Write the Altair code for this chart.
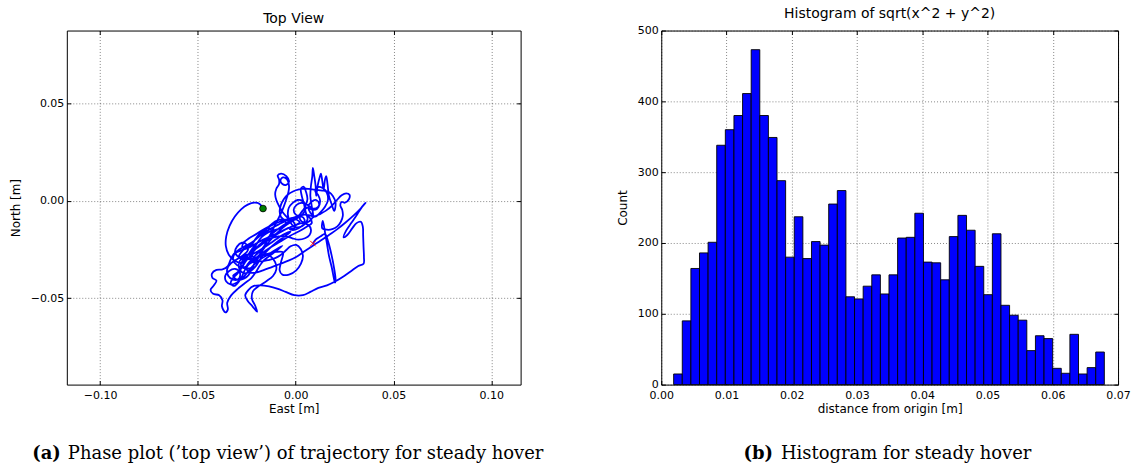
import altair as alt
import pandas as pd

# ---------------- Trajectory (top view), metres ----------------
east_m = [
    # start + big left arc
    -0.0167, -0.0184, -0.0211, -0.0245, -0.0279, -0.0311, -0.0338, -0.0355, -0.0357, -0.0342, -0.0313, -0.0275,
    # lower-left tangle
    -0.0241, -0.0218, -0.0197, -0.0173, -0.0143, -0.0109, -0.0075, -0.0051, -0.0061, -0.0094, -0.0126, -0.0156,
    -0.0187, -0.0221, -0.0255, -0.0289, -0.0316, -0.0333, -0.0347, -0.0374, -0.0405, -0.0428, -0.0425, -0.0405,
    -0.0418, -0.0435, -0.0422, -0.0391, -0.0374, -0.0377, -0.0360, -0.0347, -0.0350, -0.0330, -0.0296, -0.0262,
    -0.0228, -0.0204, -0.0185, -0.0165, -0.0133, -0.0099, -0.0068,
    # extra loops in the lower-left knot
    -0.0100, -0.0140, -0.0180, -0.0215, -0.0245, -0.0270, -0.0300, -0.0330, -0.0355, -0.0360,
    -0.0340, -0.0310, -0.0285, -0.0290, -0.0320, -0.0345, -0.0350, -0.0330, -0.0300, -0.0270,
    -0.0245, -0.0250, -0.0275, -0.0300, -0.0310, -0.0290, -0.0255, -0.0215, -0.0175, -0.0135,
    -0.0100,
    # U loop below centre
    -0.0065, -0.0075, -0.0082, -0.0068, -0.0034, 0.0003, 0.0027, 0.0037, 0.0026, 0.0003, -0.0026, -0.0051,
    -0.0075, -0.0105, -0.0139, -0.0173, -0.0207, -0.0238, -0.0258, -0.0272, -0.0289, -0.0313, -0.0332, -0.0323,
    -0.0298, -0.0275, -0.0252, -0.0224, -0.0190, -0.0160, -0.0129, -0.0099, -0.0063, -0.0026,
    # dense wandering in the lower-left knot
    -0.0060, -0.0100, -0.0140, -0.0175, -0.0200, -0.0230, -0.0262, -0.0285, -0.0290, -0.0270,
    -0.0240, -0.0215, -0.0210, -0.0230, -0.0265, -0.0300, -0.0320, -0.0310, -0.0280, -0.0250,
    -0.0225, -0.0205, -0.0185, -0.0160, -0.0135, -0.0120, -0.0135, -0.0165, -0.0195, -0.0225,
    -0.0250, -0.0270, -0.0295, -0.0320, -0.0300, -0.0265, -0.0240, -0.0225, -0.0200, -0.0170,
    -0.0140, -0.0110, -0.0080, -0.0050, -0.0020, 0.0005, 0.0030, 0.0045, 0.0040, 0.0015,
    -0.0015, -0.0030,
    # up to the small top loop and back down
    -0.0003, -0.0009, -0.0031, -0.0051, -0.0068, -0.0085, -0.0099, -0.0105, -0.0099, -0.0085, -0.0085, -0.0092,
    -0.0075, -0.0048, -0.0034, -0.0048, -0.0068, -0.0078, -0.0065, -0.0044, -0.0034, -0.0037, -0.0048, -0.0061,
    -0.0075, -0.0092, -0.0109, -0.0126, -0.0143, -0.0160, -0.0180, -0.0207, -0.0231, -0.0252,
    # long diagonal to the right
    -0.0238, -0.0204, -0.0167, -0.0122, -0.0077, -0.0034, 0.0009, 0.0051, 0.0088, 0.0128, 0.0170, 0.0213,
    0.0255, 0.0298, 0.0332, 0.0357,
    # V, right side and bottom sweep
    0.0340, 0.0315, 0.0286, 0.0258, 0.0245, 0.0264, 0.0289, 0.0311, 0.0333, 0.0343, 0.0345, 0.0347,
    0.0349, 0.0347, 0.0320, 0.0286, 0.0248, 0.0204, 0.0160, 0.0116, 0.0075, 0.0037, -0.0007, -0.0051,
    -0.0095, -0.0136, -0.0180, -0.0214, -0.0241, -0.0258, -0.0245, -0.0221, -0.0197, -0.0207, -0.0224, -0.0218,
    -0.0187,
    # back through the middle
    -0.0150, -0.0116, -0.0099, -0.0105, -0.0129, -0.0160, -0.0187, -0.0207, -0.0228, -0.0218, -0.0190, -0.0160,
    -0.0126, -0.0088, -0.0051, -0.0017, 0.0014, 0.0048, 0.0071, 0.0078, 0.0065, 0.0034, 0.0000, -0.0034,
    -0.0068, -0.0105, -0.0143, -0.0180, -0.0214, -0.0245, -0.0272, -0.0265, -0.0238, -0.0204, -0.0167, -0.0129,
    -0.0092, -0.0054, -0.0017, 0.0017, 0.0048, 0.0071, 0.0082,
    # diagonal strands, lower-left to centre
    0.0060, 0.0020, -0.0030, -0.0080, -0.0130, -0.0180, -0.0225, -0.0260, -0.0280, -0.0265,
    -0.0230, -0.0190, -0.0150, -0.0110, -0.0070, -0.0030, 0.0000, 0.0020, 0.0000, -0.0040,
    -0.0085, -0.0130, -0.0175, -0.0215, -0.0250, -0.0275, -0.0290, -0.0270, -0.0235, -0.0195,
    -0.0155, -0.0115, -0.0075, -0.0035, 0.0005, 0.0045, 0.0075,
    # spikes at the top
    0.0088, 0.0082, 0.0075, 0.0078, 0.0085, 0.0088, 0.0095, 0.0102, 0.0105, 0.0112, 0.0122, 0.0129,
    0.0136, 0.0143, 0.0150, 0.0156, 0.0163, 0.0170, 0.0184, 0.0197, 0.0204, 0.0190, 0.0170, 0.0143,
    0.0116, 0.0085, 0.0051, 0.0017, -0.0014, -0.0041, -0.0061, -0.0075, -0.0082, -0.0075, -0.0051, -0.0017,
    0.0014, 0.0037, 0.0051, 0.0060, 0.0054, 0.0041, 0.0027, 0.0031, 0.0043, 0.0051, 0.0061,
    # knot in the upper middle
    0.0045, 0.0020, -0.0010, -0.0030, -0.0040, -0.0035, -0.0015, 0.0010, 0.0035, 0.0050,
    0.0045, 0.0025, 0.0000, -0.0010, 0.0005, 0.0030, 0.0060, 0.0090, 0.0115, 0.0125,
    0.0115, 0.0100, 0.0110, 0.0140, 0.0160, 0.0165, 0.0150, 0.0125, 0.0100,
    0.0075, 0.0065, 0.0080, 0.0105, 0.0120, 0.0110, 0.0085, 0.0060, 0.0035, 0.0020,
    0.0030, 0.0060, 0.0080,
    # right cluster
    0.0085, 0.0119, 0.0153, 0.0184, 0.0211, 0.0235, 0.0258, 0.0275, 0.0272, 0.0252, 0.0235, 0.0228,
    0.0238, 0.0241, 0.0231, 0.0213, 0.0187, 0.0160, 0.0136,
    # long drop and end
    0.0139, 0.0150, 0.0160, 0.0170, 0.0184, 0.0194, 0.0201, 0.0204, 0.0197, 0.0184, 0.0167, 0.0150,
    0.0128, 0.0102, 0.0088,
]
north_m = [
    -0.0039, -0.0015, -0.0009, -0.0019, -0.0043, -0.0080, -0.0128, -0.0182, -0.0233, -0.0277, -0.0306, -0.0318,
    -0.0294, -0.0255, -0.0218, -0.0185, -0.0163, -0.0150, -0.0139, -0.0119, -0.0097, -0.0100, -0.0122, -0.0151,
    -0.0182, -0.0211, -0.0231, -0.0250, -0.0272, -0.0303, -0.0335, -0.0352, -0.0355, -0.0374, -0.0396, -0.0410,
    -0.0434, -0.0457, -0.0478, -0.0485, -0.0512, -0.0542, -0.0573, -0.0559, -0.0524, -0.0486, -0.0452, -0.0425,
    -0.0398, -0.0367, -0.0335, -0.0308, -0.0282, -0.0257, -0.0231,
    -0.0250, -0.0275, -0.0300, -0.0330, -0.0365, -0.0395, -0.0420, -0.0430, -0.0415, -0.0385,
    -0.0360, -0.0350, -0.0370, -0.0400, -0.0405, -0.0385, -0.0350, -0.0320, -0.0300, -0.0280,
    -0.0255, -0.0225, -0.0215, -0.0235, -0.0265, -0.0290, -0.0300, -0.0295, -0.0280, -0.0270,
    -0.0262,
    -0.0264, -0.0315, -0.0357, -0.0379, -0.0379, -0.0357, -0.0323, -0.0284, -0.0247, -0.0226, -0.0233, -0.0255,
    -0.0277, -0.0294, -0.0304, -0.0311, -0.0311, -0.0325, -0.0352, -0.0383, -0.0413, -0.0437, -0.0425, -0.0400,
    -0.0374, -0.0342, -0.0306, -0.0277, -0.0257, -0.0238, -0.0218, -0.0196, -0.0173, -0.0158,
    -0.0185, -0.0215, -0.0250, -0.0290, -0.0330, -0.0360, -0.0372, -0.0355, -0.0320, -0.0290,
    -0.0275, -0.0290, -0.0320, -0.0345, -0.0345, -0.0330, -0.0300, -0.0270, -0.0255, -0.0245,
    -0.0225, -0.0195, -0.0170, -0.0150, -0.0140, -0.0160, -0.0185, -0.0200, -0.0215, -0.0250,
    -0.0290, -0.0330, -0.0365, -0.0385, -0.0405, -0.0400, -0.0380, -0.0350, -0.0300, -0.0255,
    -0.0215, -0.0180, -0.0150, -0.0125, -0.0105, -0.0090, -0.0080, -0.0095, -0.0120, -0.0140,
    -0.0150, -0.0145,
    -0.0138, -0.0111, -0.0094, -0.0077, -0.0056, -0.0026, 0.0005, 0.0034, 0.0063, 0.0087, 0.0111, 0.0131,
    0.0141, 0.0128, 0.0100, 0.0083, 0.0087, 0.0105, 0.0121, 0.0111, 0.0077, 0.0046, 0.0009, -0.0029,
    -0.0063, -0.0097, -0.0131, -0.0165, -0.0199, -0.0230, -0.0255, -0.0281, -0.0308, -0.0338,
    -0.0366, -0.0369, -0.0357, -0.0340, -0.0323, -0.0306, -0.0284, -0.0255, -0.0230, -0.0204, -0.0175, -0.0145,
    -0.0111, -0.0073, -0.0039, -0.0009,
    -0.0029, -0.0068, -0.0111, -0.0153, -0.0187, -0.0175, -0.0141, -0.0114, -0.0107, -0.0131, -0.0182, -0.0238,
    -0.0289, -0.0323, -0.0335, -0.0359, -0.0386, -0.0413, -0.0434, -0.0447, -0.0468, -0.0485, -0.0485, -0.0468,
    -0.0451, -0.0440, -0.0434, -0.0437, -0.0457, -0.0485, -0.0515, -0.0542, -0.0570, -0.0539, -0.0502, -0.0464,
    -0.0437,
    -0.0413, -0.0386, -0.0352, -0.0315, -0.0284, -0.0277, -0.0289, -0.0311, -0.0298, -0.0264, -0.0233, -0.0209,
    -0.0192, -0.0182, -0.0182, -0.0192, -0.0199, -0.0192, -0.0175, -0.0148, -0.0124, -0.0114, -0.0124, -0.0138,
    -0.0153, -0.0172, -0.0189, -0.0206, -0.0226, -0.0243, -0.0240, -0.0213, -0.0192, -0.0172, -0.0148, -0.0128,
    -0.0111, -0.0097, -0.0087, -0.0077, -0.0070, -0.0085, -0.0114,
    -0.0130, -0.0155, -0.0180, -0.0210, -0.0240, -0.0275, -0.0310, -0.0340, -0.0330, -0.0300,
    -0.0265, -0.0230, -0.0195, -0.0160, -0.0130, -0.0105, -0.0095, -0.0110, -0.0125, -0.0140,
    -0.0165, -0.0195, -0.0225, -0.0255, -0.0280, -0.0300, -0.0285, -0.0255, -0.0225, -0.0190,
    -0.0160, -0.0135, -0.0115, -0.0095, -0.0080, -0.0070, -0.0075,
    -0.0077, -0.0026, 0.0026, 0.0077, 0.0128, 0.0170, 0.0128, 0.0077, 0.0026, 0.0077, 0.0119, 0.0141,
    0.0102, 0.0060, 0.0111, 0.0128, 0.0085, 0.0026, -0.0017, -0.0051, -0.0009, 0.0026, 0.0046, 0.0053,
    0.0056, 0.0060, 0.0063, 0.0060, 0.0049, 0.0032, 0.0009, -0.0019, -0.0053, -0.0083, -0.0100, -0.0097,
    -0.0077, -0.0049, -0.0022, 0.0009, 0.0043, 0.0073, 0.0063, 0.0026, -0.0017, -0.0056, -0.0094,
    -0.0120, -0.0135, -0.0130, -0.0105, -0.0070, -0.0035, -0.0010, 0.0005, 0.0000, -0.0025,
    -0.0055, -0.0075, -0.0070, -0.0045, -0.0020, -0.0010, -0.0020, -0.0040, -0.0030, 0.0000,
    0.0030, 0.0050, 0.0070, 0.0065, 0.0040, 0.0005, -0.0030, -0.0060, -0.0080,
    -0.0060, -0.0030, -0.0005, 0.0005, -0.0015, -0.0040, -0.0045, -0.0035, -0.0050, -0.0080,
    -0.0105, -0.0110, -0.0095,
    -0.0087, -0.0070, -0.0051, -0.0026, 0.0005, 0.0029, 0.0039, 0.0032, 0.0009, -0.0009, -0.0005, -0.0022,
    -0.0046, -0.0077, -0.0107, -0.0131, -0.0145, -0.0148, -0.0141,
    -0.0102, -0.0162, -0.0221, -0.0281, -0.0340, -0.0391, -0.0420, -0.0408, -0.0349, -0.0281, -0.0213, -0.0170,
    -0.0182, -0.0199, -0.0219,
]

# ---------------- Histogram of distance from origin ----------------
hist_counts = [15, 90, 164, 186, 201, 338, 360, 380, 411, 473, 380, 349, 288, 180, 237, 178, 202, 197,
               255, 274, 124, 121, 139, 155, 128, 155, 207, 208, 242, 173, 172, 148, 209, 239, 218, 167,
               127, 213, 112, 98, 91, 48, 69, 65, 23, 16, 71, 15, 24, 46]
hist_first_edge = 0.0019
hist_bin_width = 0.00132

# ---------------- Text ----------------
left_title = "Top View"
right_title = "Histogram of sqrt(x^2 + y^2)"
caption_a = ["(a)", "Phase plot (\u2019top view\u2019) of trajectory for steady hover"]
caption_b = ["(b)", "Histogram for steady hover"]
east_ticks = [-0.10, -0.05, 0.0, 0.05, 0.10]
north_ticks = [-0.05, 0.0, 0.05]
dist_ticks = [0.0, 0.01, 0.02, 0.03, 0.04, 0.05, 0.06, 0.07]
count_ticks = [0, 100, 200, 300, 400, 500]

W_L, W_R, H = 455, 458, 355

traj = pd.DataFrame({"east": east_m, "north": north_m, "step": list(range(len(east_m)))})
start_pt = traj.iloc[[0]]
end_pt = traj.iloc[[-1]]

hist = pd.DataFrame({
    "lo": [hist_first_edge + i * hist_bin_width for i in range(len(hist_counts))],
    "hi": [hist_first_edge + (i + 1) * hist_bin_width for i in range(len(hist_counts))],
    "count": hist_counts,
})

grid_kw = dict(grid=True, gridDash=[1, 2], gridColor="#000000", gridOpacity=0.6, gridWidth=0.8,
               ticks=False, domain=False)
tick_kw = dict(labels=False, title="", grid=False, domain=False, ticks=True, tickSize=4,
               tickColor="#000000", tickWidth=1, offset=-4)


def inward_ticks(data, xf, yf, xvals, yvals, xorient, yorient):
    return alt.Chart(data).mark_point(opacity=0).encode(
        x=alt.X(xf, axis=alt.Axis(orient=xorient, values=xvals, **tick_kw)),
        y=alt.Y(yf, axis=alt.Axis(orient=yorient, values=yvals, **tick_kw)),
    )


xs_l = alt.Scale(domain=[-0.117, 0.115], nice=False, zero=False)
ys_l = alt.Scale(domain=[-0.0945, 0.0877], nice=False, zero=False)

x_l = alt.X("east:Q", scale=xs_l,
            axis=alt.Axis(values=east_ticks, format=".2f", title="East [m]", labelPadding=5, titlePadding=3,
                          labelFlush=False, **grid_kw))
y_l = alt.Y("north:Q", scale=ys_l,
            axis=alt.Axis(values=north_ticks, format=".2f", title="North [m]", labelPadding=3, titlePadding=8,
                          **grid_kw))

line = alt.Chart(traj).mark_line(color="#0000ff", strokeWidth=1.8, interpolate="catmull-rom", clip=True).encode(
    x=x_l, y=y_l, order="step:Q")
start_mark = alt.Chart(start_pt).mark_point(shape="circle", filled=True, fill="#007f00", stroke="#000000",
                                            strokeWidth=0.8, size=45, opacity=1).encode(
    x=alt.X("east:Q", axis=None), y=alt.Y("north:Q", axis=None))
end_mark = alt.Chart(end_pt).mark_point(shape="M -1 -1 L 1 1 M -1 1 L 1 -1", filled=False, stroke="#ff0000",
                                        strokeWidth=1, size=30, opacity=1).encode(
    x=alt.X("east:Q", axis=None), y=alt.Y("north:Q", axis=None))
ticks_l1 = inward_ticks(start_pt, "east:Q", "north:Q", east_ticks, north_ticks, "bottom", "left")
ticks_l2 = inward_ticks(start_pt, "east:Q", "north:Q", east_ticks, north_ticks, "top", "right")

CAP_Y = 430
cap_a = pd.DataFrame({"lab": [caption_a[0]], "txt": [caption_a[1]]})
cap_a_bold = alt.Chart(cap_a).mark_text(font="DejaVu Serif", fontSize=18, fontWeight="bold", align="right",
                                        baseline="alphabetic", color="#000").encode(
    x=alt.value(-6), y=alt.value(CAP_Y), text="lab:N")
cap_a_text = alt.Chart(cap_a).mark_text(font="DejaVu Serif", fontSize=18, align="left",
                                        baseline="alphabetic", color="#000").encode(
    x=alt.value(1), y=alt.value(CAP_Y), text="txt:N")

left = alt.layer(line, start_mark, end_mark, ticks_l1, ticks_l2, cap_a_bold, cap_a_text).resolve_axis(
    x="independent", y="independent").properties(width=W_L, height=H, title=left_title)

xs_r = alt.Scale(domain=[0, 0.07], nice=False, zero=False)
ys_r = alt.Scale(domain=[0, 500], nice=False)
x_r = alt.X("lo:Q", scale=xs_r,
            axis=alt.Axis(values=dist_ticks, format=".2f", title="distance from origin [m]",
                          labelPadding=5, titlePadding=3, labelFlush=False, **grid_kw))
y_r = alt.Y("count:Q", scale=ys_r,
            axis=alt.Axis(values=count_ticks, format="d", title="Count", labelPadding=3, titlePadding=8, **grid_kw))

bars = alt.Chart(hist).mark_bar(fill="#0000ff", stroke="#000000", strokeWidth=0.9, opacity=1).encode(
    x=x_r, x2="hi:Q", y=y_r, y2=alt.datum(0))
ticks_r1 = inward_ticks(hist, "lo:Q", "count:Q", dist_ticks, count_ticks, "bottom", "left")
ticks_r2 = inward_ticks(hist, "lo:Q", "count:Q", dist_ticks, count_ticks, "top", "right")

cap_b = pd.DataFrame({"lab": [caption_b[0]], "txt": [caption_b[1]]})
cap_b_bold = alt.Chart(cap_b).mark_text(font="DejaVu Serif", fontSize=18, fontWeight="bold", align="right",
                                        baseline="alphabetic", color="#000").encode(
    x=alt.value(112), y=alt.value(CAP_Y), text="lab:N")
cap_b_text = alt.Chart(cap_b).mark_text(font="DejaVu Serif", fontSize=18, align="left",
                                        baseline="alphabetic", color="#000").encode(
    x=alt.value(120), y=alt.value(CAP_Y), text="txt:N")

right = alt.layer(bars, ticks_r1, ticks_r2, cap_b_bold, cap_b_text).resolve_axis(
    x="independent", y="independent").properties(width=W_R, height=H, title=right_title)

chart = alt.hconcat(left, right, spacing=141, bounds="flush").properties(
    padding={"left": 8, "top": 5, "right": 5, "bottom": 5},
    background="#ffffff",
).configure_view(
    stroke="#000000", strokeWidth=1
).configure_axis(
    labelFont="DejaVu Sans", labelFontSize=11, labelColor="#000000",
    titleFont="DejaVu Sans", titleFontSize=12, titleFontWeight="normal", titleColor="#000000"
).configure_title(
    font="DejaVu Sans", fontSize=14, fontWeight="normal", color="#000000", offset=4, anchor="middle"
)

chart.save("out.html", embed_options={"renderer": "svg", "actions": False})
